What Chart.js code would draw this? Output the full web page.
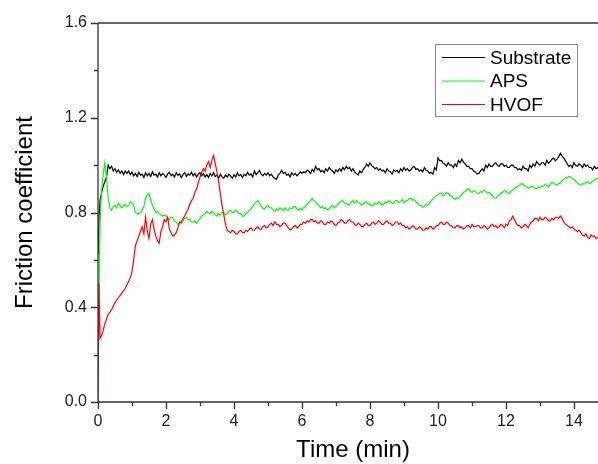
<!DOCTYPE html>
<html>
<head>
<meta charset="utf-8">
<script src="https://cdn.jsdelivr.net/npm/chart.js"></script>
<style>
  html, body { margin: 0; padding: 0; background: #fff; overflow: hidden; }
  #wrap { width: 598px; height: 464px; overflow: hidden; }
  #wrap div { width: 620px; height: 464px; }
</style>
</head>
<body>
<div id="wrap"><div><canvas id="chart" width="620" height="464"></canvas></div></div>
<script>
const seriesNames = ['Substrate', 'APS', 'HVOF']
const seriesColors = ['#000000', '#00ff00', '#ff0000']

// sample times (min)
const times = [0, 0.03, 0.06, 0.1, 0.15, 0.2, 0.25, 0.3, 0.35, 0.4, 0.45, 0.5, 0.55, 0.6, 0.65, 0.7, 0.75, 0.8, 0.85, 0.9, 0.95,
  1.0, 1.05, 1.1, 1.15, 1.2, 1.25, 1.3, 1.35, 1.4, 1.45, 1.5, 1.55, 1.6, 1.65, 1.7, 1.75, 1.8, 1.85, 1.9, 1.95,
  2.0, 2.05, 2.1, 2.15, 2.2, 2.25, 2.3, 2.35, 2.4, 2.45, 2.5, 2.55, 2.6, 2.65, 2.7, 2.75, 2.8, 2.85, 2.9, 2.95,
  3.0, 3.05, 3.1, 3.15, 3.2, 3.25, 3.3, 3.35, 3.4, 3.45, 3.5, 3.55, 3.6, 3.65, 3.7, 3.75, 3.8, 3.85, 3.9, 3.95,
  4.0, 4.05, 4.1, 4.15, 4.2, 4.25, 4.3, 4.35, 4.4, 4.45, 4.5, 4.55, 4.6, 4.65, 4.7, 4.75, 4.8, 4.85, 4.9, 4.95,
  5.0, 5.05, 5.1, 5.15, 5.2, 5.25, 5.3, 5.35, 5.4, 5.45, 5.5, 5.55, 5.6, 5.65, 5.7, 5.75, 5.8, 5.85, 5.9, 5.95,
  6.0, 6.05, 6.1, 6.15, 6.2, 6.25, 6.3, 6.35, 6.4, 6.45, 6.5, 6.55, 6.6, 6.65, 6.7, 6.75, 6.8, 6.85, 6.9, 6.95,
  7.0, 7.05, 7.1, 7.15, 7.2, 7.25, 7.3, 7.35, 7.4, 7.45, 7.5, 7.55, 7.6, 7.65, 7.7, 7.75, 7.8, 7.85, 7.9, 7.95,
  8.0, 8.05, 8.1, 8.15, 8.2, 8.25, 8.3, 8.35, 8.4, 8.45, 8.5, 8.55, 8.6, 8.65, 8.7, 8.75, 8.8, 8.85, 8.9, 8.95,
  9.0, 9.05, 9.1, 9.15, 9.2, 9.25, 9.3, 9.35, 9.4, 9.45, 9.5, 9.55, 9.6, 9.65, 9.7, 9.75, 9.8, 9.85, 9.9, 9.95,
  10.0, 10.05, 10.1, 10.15, 10.2, 10.25, 10.3, 10.35, 10.4, 10.45, 10.5, 10.55, 10.6, 10.65, 10.7, 10.75, 10.8, 10.85, 10.9, 10.95,
  11.0, 11.05, 11.1, 11.15, 11.2, 11.25, 11.3, 11.35, 11.4, 11.45, 11.5, 11.55, 11.6, 11.65, 11.7, 11.75, 11.8, 11.85, 11.9, 11.95,
  12.0, 12.05, 12.1, 12.15, 12.2, 12.25, 12.3, 12.35, 12.4, 12.45, 12.5, 12.55, 12.6, 12.65, 12.7, 12.75, 12.8, 12.85, 12.9, 12.95,
  13.0, 13.05, 13.1, 13.15, 13.2, 13.25, 13.3, 13.35, 13.4, 13.45, 13.5, 13.55, 13.6, 13.65, 13.7, 13.75, 13.8, 13.85, 13.9, 13.95,
  14.0, 14.05, 14.1, 14.15, 14.2, 14.25, 14.3, 14.35, 14.4, 14.45, 14.5, 14.55, 14.6, 14.65, 14.7, 14.75, 14.8]

const substrate = [0.62, 0.78, 0.85, 0.88, 0.91, 0.93, 0.95, 1.0, 0.985, 0.995, 0.975, 0.985, 0.97, 0.98, 0.965, 0.975, 0.96, 0.975, 0.965, 0.975, 0.96,
  0.97, 0.955, 0.965, 0.952, 0.97, 0.958, 0.962, 0.948, 0.968, 0.955, 0.965, 0.952, 0.972, 0.958, 0.962, 0.95, 0.968, 0.955, 0.965, 0.958,
  0.948, 0.963, 0.97, 0.955, 0.962, 0.95, 0.968, 0.957, 0.963, 0.948, 0.96, 0.968, 0.952, 0.963, 0.958, 0.97, 0.955, 0.965, 0.95, 0.962,
  0.968, 0.955, 0.965, 0.95, 0.96, 0.948, 0.965, 0.955, 0.968, 0.952, 0.958, 0.945, 0.962, 0.95, 0.945, 0.958, 0.95, 0.962, 0.955, 0.945,
  0.96, 0.95, 0.968, 0.955, 0.96, 0.948, 0.962, 0.955, 0.97, 0.958, 0.963, 0.95, 0.975, 0.96, 0.968, 0.978, 0.962, 0.955, 0.965, 0.958,
  0.968, 0.955, 0.962, 0.95, 0.945, 0.94, 0.958, 0.965, 0.978, 0.965, 0.97, 0.958, 0.962, 0.95, 0.968, 0.958, 0.965, 0.955, 0.962, 0.972,
  0.965, 0.972, 0.968, 0.978, 0.975, 0.965, 0.982, 0.972, 0.995, 0.98, 0.985, 0.972, 0.978, 0.968, 0.985, 0.975, 0.99, 0.98, 0.975, 0.965,
  0.98, 0.972, 0.985, 0.975, 0.99, 0.98, 0.995, 0.985, 0.99, 0.975, 0.985, 0.97, 0.965, 0.958, 0.975, 0.968, 0.982, 0.99, 1.005, 0.995,
  1.01, 0.998, 0.992, 0.985, 0.99, 0.978, 0.985, 0.975, 0.978, 0.968, 0.985, 0.975, 0.972, 0.962, 0.98, 0.972, 0.978, 0.968, 0.985, 0.975,
  0.99, 0.978, 0.985, 0.975, 0.98, 0.99, 0.995, 0.982, 0.985, 0.975, 0.98, 0.972, 0.99, 0.978, 0.975, 0.965, 0.97, 0.962, 0.99, 0.98,
  1.03, 1.018, 1.02, 1.008, 1.005, 0.995, 1.01, 1.0, 1.0, 0.99, 1.005, 0.995, 1.02, 1.01, 1.025, 1.012, 1.005, 0.995, 0.995, 0.985,
  0.985, 0.975, 0.97, 0.962, 0.965, 0.975, 0.985, 0.975, 1.0, 0.99, 1.005, 0.995, 0.995, 1.005, 1.01, 0.998, 0.995, 1.005, 1.005, 0.995,
  1.0, 0.99, 0.99, 1.0, 1.0, 0.99, 0.99, 0.98, 0.985, 0.978, 0.995, 0.985, 0.985, 0.975, 1.0, 0.99, 1.005, 0.995, 1.015, 1.005,
  1.0, 1.01, 1.01, 1.0, 1.02, 1.008, 1.015, 1.025, 1.03, 1.018, 1.025, 1.035, 1.05, 1.038, 1.03, 1.018, 1.005, 0.995, 1.0, 0.99,
  1.01, 0.998, 0.995, 1.005, 1.0, 0.99, 1.005, 0.995, 1.0, 0.99, 0.99, 0.98, 0.995, 0.985, 0.99, 0.982, 0.99]

const aps = [0.21, 0.45, 0.75, 0.88, 0.96, 1.01, 0.95, 0.86, 0.82, 0.81, 0.825, 0.83, 0.82, 0.84, 0.83, 0.82, 0.83, 0.835, 0.825, 0.83, 0.845,
  0.84, 0.83, 0.80, 0.795, 0.795, 0.80, 0.81, 0.825, 0.86, 0.875, 0.88, 0.855, 0.83, 0.815, 0.80, 0.805, 0.795, 0.79, 0.785, 0.79,
  0.785, 0.775, 0.77, 0.78, 0.78, 0.765, 0.76, 0.75, 0.755, 0.765, 0.765, 0.775, 0.78, 0.77, 0.77, 0.76, 0.76, 0.765, 0.755, 0.765,
  0.775, 0.785, 0.79, 0.795, 0.805, 0.798, 0.795, 0.805, 0.8, 0.79, 0.785, 0.795, 0.79, 0.8, 0.8, 0.79, 0.795, 0.805, 0.81, 0.8,
  0.8, 0.81, 0.805, 0.795, 0.795, 0.785, 0.785, 0.795, 0.8, 0.81, 0.815, 0.825, 0.835, 0.845, 0.85, 0.84, 0.825, 0.818, 0.815, 0.825,
  0.83, 0.82, 0.82, 0.81, 0.805, 0.815, 0.81, 0.82, 0.815, 0.808, 0.82, 0.81, 0.81, 0.82, 0.815, 0.825, 0.825, 0.815, 0.81, 0.818,
  0.81, 0.82, 0.825, 0.835, 0.84, 0.85, 0.86, 0.85, 0.845, 0.835, 0.83, 0.82, 0.825, 0.815, 0.82, 0.812, 0.815, 0.825, 0.83, 0.82,
  0.825, 0.835, 0.84, 0.848, 0.85, 0.84, 0.84, 0.832, 0.835, 0.845, 0.85, 0.84, 0.85, 0.842, 0.84, 0.832, 0.835, 0.845, 0.845, 0.835,
  0.835, 0.828, 0.83, 0.84, 0.835, 0.845, 0.84, 0.832, 0.835, 0.845, 0.84, 0.85, 0.845, 0.838, 0.84, 0.85, 0.85, 0.842, 0.845, 0.855,
  0.84, 0.848, 0.85, 0.858, 0.86, 0.852, 0.855, 0.845, 0.84, 0.832, 0.83, 0.822, 0.825, 0.835, 0.83, 0.84, 0.85, 0.858, 0.865, 0.872,
  0.875, 0.882, 0.88, 0.872, 0.875, 0.885, 0.88, 0.872, 0.87, 0.86, 0.855, 0.862, 0.86, 0.868, 0.875, 0.885, 0.89, 0.898, 0.9, 0.89,
  0.885, 0.892, 0.89, 0.882, 0.88, 0.888, 0.885, 0.895, 0.89, 0.882, 0.885, 0.878, 0.87, 0.862, 0.86, 0.868, 0.875, 0.882, 0.885, 0.892,
  0.89, 0.882, 0.88, 0.89, 0.895, 0.902, 0.905, 0.912, 0.915, 0.922, 0.92, 0.912, 0.91, 0.902, 0.905, 0.912, 0.91, 0.902, 0.9, 0.908,
  0.905, 0.912, 0.91, 0.918, 0.915, 0.908, 0.92, 0.928, 0.925, 0.918, 0.915, 0.922, 0.925, 0.935, 0.94, 0.948, 0.945, 0.952, 0.95, 0.942,
  0.94, 0.932, 0.925, 0.918, 0.915, 0.922, 0.92, 0.928, 0.93, 0.922, 0.925, 0.932, 0.935, 0.942, 0.945, 0.938, 0.94]

const hvof = [0, 0.5, 0.27, 0.28, 0.30, 0.33, 0.35, 0.37, 0.38, 0.39, 0.405, 0.42, 0.43, 0.44, 0.45, 0.46, 0.47, 0.48, 0.495, 0.51, 0.525,
  0.55, 0.6, 0.66, 0.68, 0.7, 0.72, 0.74, 0.71, 0.78, 0.72, 0.69, 0.75, 0.77, 0.73, 0.70, 0.68, 0.67, 0.72, 0.74, 0.77,
  0.76, 0.78, 0.73, 0.715, 0.70, 0.705, 0.715, 0.735, 0.76, 0.755, 0.775, 0.785, 0.80, 0.815, 0.835, 0.85, 0.86, 0.885, 0.90, 0.925,
  0.95, 0.97, 0.985, 0.975, 1.0, 1.015, 0.99, 1.02, 1.04, 1.005, 0.97, 0.93, 0.88, 0.83, 0.79, 0.75, 0.725, 0.72, 0.715, 0.725,
  0.72, 0.71, 0.71, 0.72, 0.725, 0.715, 0.715, 0.725, 0.72, 0.73, 0.735, 0.725, 0.725, 0.735, 0.74, 0.73, 0.73, 0.74, 0.745, 0.735,
  0.74, 0.75, 0.755, 0.745, 0.76, 0.75, 0.75, 0.74, 0.745, 0.755, 0.755, 0.745, 0.735, 0.725, 0.73, 0.74, 0.745, 0.735, 0.74, 0.75,
  0.75, 0.76, 0.755, 0.765, 0.76, 0.77, 0.77, 0.76, 0.765, 0.755, 0.755, 0.765, 0.76, 0.75, 0.75, 0.76, 0.755, 0.765, 0.76, 0.75,
  0.745, 0.755, 0.76, 0.77, 0.765, 0.755, 0.755, 0.765, 0.77, 0.76, 0.76, 0.75, 0.745, 0.755, 0.75, 0.74, 0.74, 0.75, 0.755, 0.745,
  0.745, 0.755, 0.76, 0.75, 0.755, 0.765, 0.76, 0.75, 0.75, 0.76, 0.765, 0.755, 0.755, 0.745, 0.75, 0.76, 0.76, 0.75, 0.755, 0.745,
  0.745, 0.735, 0.74, 0.73, 0.735, 0.745, 0.74, 0.73, 0.73, 0.74, 0.735, 0.725, 0.725, 0.735, 0.73, 0.74, 0.74, 0.73, 0.735, 0.745,
  0.745, 0.755, 0.76, 0.75, 0.75, 0.76, 0.755, 0.745, 0.745, 0.735, 0.735, 0.745, 0.745, 0.735, 0.74, 0.73, 0.735, 0.745, 0.745, 0.735,
  0.75, 0.74, 0.74, 0.745, 0.745, 0.735, 0.735, 0.745, 0.74, 0.73, 0.735, 0.745, 0.75, 0.74, 0.745, 0.735, 0.74, 0.75, 0.745, 0.735,
  0.75, 0.745, 0.765, 0.77, 0.785, 0.77, 0.755, 0.745, 0.745, 0.735, 0.74, 0.75, 0.745, 0.735, 0.75, 0.76, 0.765, 0.775, 0.775, 0.765,
  0.78, 0.77, 0.77, 0.78, 0.775, 0.765, 0.765, 0.775, 0.77, 0.78, 0.78, 0.775, 0.785, 0.775, 0.76, 0.75, 0.745, 0.74, 0.735, 0.74,
  0.73, 0.725, 0.72, 0.725, 0.715, 0.705, 0.70, 0.71, 0.695, 0.69, 0.705, 0.70, 0.70, 0.69, 0.695, 0.705, 0.70]

const xMajor = [0, 2, 4, 6, 8, 10, 12, 14]
const xMinor = [1, 3, 5, 7, 9, 11, 13, 15]
const yMajor = [0, 0.4, 0.8, 1.2, 1.6]
const yMinor = [0.2, 0.6, 1.0, 1.4]

const fontFamily = '"Liberation Sans", Arial, sans-serif'
const axisColor = '#333'

// axes frame, outward ticks and the boxed legend, drawn like the original plot
const framePlugin = {
    id: 'frame',
    afterDraw(chart) {
        const ctx = chart.ctx
        const area = chart.chartArea
        const xs = chart.scales.x
        const ys = chart.scales.y
        ctx.save()
        ctx.strokeStyle = axisColor
        ctx.lineWidth = 1.3
        ctx.beginPath()
        ctx.moveTo(area.left, area.top)
        ctx.lineTo(area.right, area.top)
        ctx.moveTo(area.left, area.top)
        ctx.lineTo(area.left, area.bottom)
        ctx.lineTo(area.right, area.bottom)
        xMajor.forEach(v => {
            const px = Math.round(xs.getPixelForValue(v)) + 0.5
            ctx.moveTo(px, area.bottom); ctx.lineTo(px, area.bottom + 7)
        })
        xMinor.forEach(v => {
            const px = Math.round(xs.getPixelForValue(v)) + 0.5
            ctx.moveTo(px, area.bottom); ctx.lineTo(px, area.bottom + 4)
        })
        yMajor.forEach(v => {
            const py = Math.round(ys.getPixelForValue(v)) + 0.5
            ctx.moveTo(area.left, py); ctx.lineTo(area.left - 7, py)
        })
        yMinor.forEach(v => {
            const py = Math.round(ys.getPixelForValue(v)) + 0.5
            ctx.moveTo(area.left, py); ctx.lineTo(area.left - 4, py)
        })
        ctx.stroke()

        // legend box
        ctx.lineWidth = 1
        ctx.strokeStyle = '#888'
        ctx.strokeRect(435.5, 44.5, 142, 72)
        ctx.font = '19px ' + fontFamily
        ctx.textBaseline = 'middle'
        ctx.fillStyle = '#000'
        seriesNames.forEach((name, i) => {
            const y = 57.5 + i * 23.5
            ctx.strokeStyle = seriesColors[i]
            ctx.beginPath()
            ctx.moveTo(442, y); ctx.lineTo(485, y)
            ctx.stroke()
            ctx.fillText(name, 490, y + 1)
        })
        ctx.restore()
    }
}

const allSeries = [substrate, aps, hvof]

new Chart(document.getElementById('chart').getContext('2d'), {
    type: 'line',
    data: {
        datasets: allSeries.map((vals, i) => ({
            label: seriesNames[i],
            data: vals.map((v, j) => ({ x: times[j], y: v })),
            borderColor: seriesColors[i],
            borderWidth: 1.2,
            pointRadius: 0,
            tension: 0,
            order: 3 - i
        }))
    },
    options: {
        responsive: false,
        animation: false,
        layout: { padding: { top: 23, right: 12, left: 0, bottom: 0 } },
        plugins: {
            legend: { display: false },
            tooltip: { enabled: false }
        },
        scales: {
            x: {
                type: 'linear',
                min: 0,
                max: 15,
                afterFit: s => { s.height = 62 },
                afterBuildTicks: s => { s.ticks = xMajor.map(v => ({ value: v })) },
                grid: { display: false },
                border: { display: false },
                ticks: {
                    color: '#222',
                    padding: 2,
                    font: { family: fontFamily, size: 16 }
                },
                title: {
                    display: true,
                    text: 'Time (min)',
                    color: '#000',
                    font: { family: fontFamily, size: 24, lineHeight: 1 },
                    padding: { top: 0, bottom: 2 }
                }
            },
            y: {
                min: 0,
                max: 1.6,
                afterFit: s => { s.width = 98 },
                afterBuildTicks: s => { s.ticks = yMajor.map(v => ({ value: v })) },
                grid: { display: false },
                border: { display: false },
                ticks: {
                    color: '#222',
                    padding: 3,
                    font: { family: fontFamily, size: 16 },
                    callback: v => v.toFixed(1)
                },
                title: {
                    display: true,
                    text: 'Friction coefficient',
                    color: '#000',
                    font: { family: fontFamily, size: 24, lineHeight: 1 },
                    padding: { top: 13, bottom: 0 }
                }
            }
        }
    },
    plugins: [framePlugin]
})
</script>
</body>
</html>
